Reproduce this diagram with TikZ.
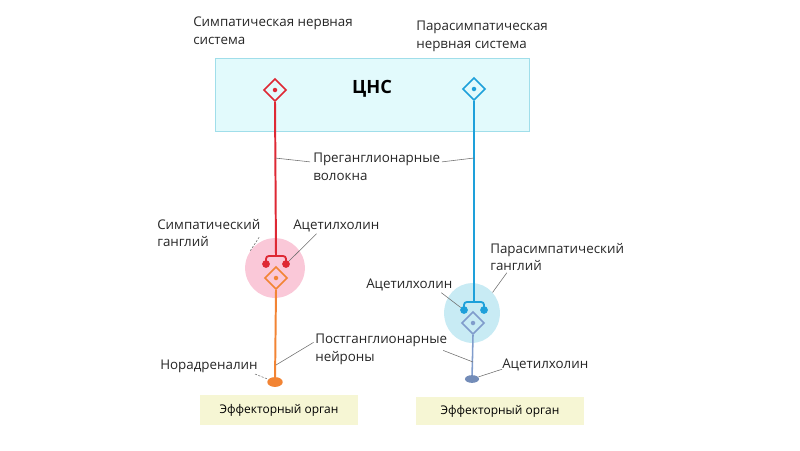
\documentclass[tikz,border=0pt]{standalone}
\usepackage{fontspec}
\setmainfont{Open Sans}
\usetikzlibrary{shapes.geometric,positioning,calc}
\definecolor{cnsfill}{RGB}{226,250,252}
\definecolor{cnsdraw}{RGB}{160,222,234}
\definecolor{symred}{RGB}{222,40,52}
\definecolor{parblue}{RGB}{30,160,218}
\definecolor{postorange}{RGB}{242,132,52}
\definecolor{postgrey}{RGB}{128,156,204}
\definecolor{gangpink}{RGB}{250,200,216}
\definecolor{gangblue}{RGB}{200,235,244}
\definecolor{effyellow}{RGB}{246,246,212}
\definecolor{leadgrey}{RGB}{110,110,110}

\begin{document}
\begin{tikzpicture}[x=0.025cm, y=-0.025cm,
    lbl/.style={font=\fontsize{9.5}{12.6}\selectfont, align=left, inner sep=0pt, text=black!85},
    soma/.style={diamond, draw, line width=1.1pt, minimum size=16pt, inner sep=0pt},
    axon/.style={line width=1.4pt},
    blob/.style={circle, inner sep=0pt, minimum size=5.5pt},
    lead/.style={draw=leadgrey, line width=0.4pt},
    dlead/.style={lead, dash pattern=on 1.5pt off 1pt},
    organ/.style={fill=effyellow, minimum width=112pt, minimum height=22pt,
                  font=\fontsize{8.5}{10}\selectfont}
]
    \useasboundingbox (0,0) rectangle (800,450);

    % CNS block
    \node[draw=cnsdraw, fill=cnsfill, line width=1pt, minimum width=223pt,
          minimum height=52pt] (cns) at (372.5,95) {};
    \node[font=\fontsize{13}{15}\selectfont\bfseries] (cnstxt) at (372,89) {ЦНС};
    \node[lbl, anchor=west] (symtitle) at (193,31) {Симпатическая нервная\\система};
    \node[lbl, anchor=west] (partitle) at (416,36) {Парасимпатическая\\нервная система};

    % ganglia
    \node[circle, fill=gangpink, minimum size=42.5pt, inner sep=0pt] (sgang) at (275,268) {};
    \node[ellipse, fill=gangblue, minimum width=39.7pt, minimum height=42.5pt, inner sep=0pt] (pgang) at (472,313) {};

    % somata
    \node[soma, draw=symred] (symcns) at (275,90) {};
    \node[soma, draw=parblue] (parcns) at (474,89) {};
    \node[soma, draw=postorange] (sympost) at (276,278) {};
    \node[soma, draw=postgrey] (parpost) at (473,323) {};
    \fill[symred] (symcns) circle (1.6pt);
    \fill[parblue] (parcns) circle (1.6pt);
    \fill[postorange] (sympost) circle (1.6pt);
    \fill[postgrey] (parpost) circle (1.6pt);

    % synapses
    \coordinate (symcup) at (276,256);
    \coordinate (parcup) at (474,302);
    \draw[symred, line width=1.3pt, rounded corners=2pt]
        (266,263) -- (266,256) -- (286,256) -- (286,263);
    \draw[parblue, line width=1.3pt, rounded corners=2pt]
        (464,309) -- (464,302) -- (484,302) -- (484,309);
    \node[blob, fill=symred] (sblobl) at (266,264) {};
    \node[blob, fill=symred] (sblobr) at (286,264) {};
    \node[blob, fill=parblue] (pblobl) at (464,310) {};
    \node[blob, fill=parblue] (pblobr) at (484,310) {};

    % fibres
    \draw[axon, symred] (symcns.south) -- (symcup);
    \draw[axon, parblue] (parcns.south) -- (parcup);
    \node[ellipse, fill=postorange, minimum width=11pt, minimum height=7pt, inner sep=0pt] (symend) at (275,382) {};
    \node[ellipse, fill=postgrey!90!black, minimum width=10pt, minimum height=5.5pt, inner sep=0pt] (parend) at (472,379) {};
    \draw[axon, postorange] (sympost.south) -- (symend);
    \draw[line width=1.1pt, postgrey] (parpost.south) -- (parend);

    % labels
    \node[lbl, anchor=west] (pre) at (313,167) {Преганглионарные\\волокна};
    \node[lbl, anchor=west] (symgl) at (157,233) {Симпатический\\ганглий};
    \node[lbl, anchor=west] (ach1) at (293,226) {Ацетилхолин};
    \node[lbl, anchor=west] (pargl) at (490,257) {Парасимпатический\\ганглий};
    \node[lbl, anchor=west] (ach2) at (366,285) {Ацетилхолин};
    \node[lbl, anchor=west] (post) at (315,349) {Постганглионарные\\нейроны};
    \node[lbl, anchor=west] (nora) at (160,366) {Норадреналин};
    \node[lbl, anchor=west] (ach3) at (502,365) {Ацетилхолин};

    \coordinate (presym) at (275,158);
    \coordinate (prepar) at (474,158);
    \coordinate (postsym) at (276,365);
    \coordinate (postpar) at (473,362);

    % leader lines
    \draw[lead] (presym) -- ([xshift=-2pt,yshift=-6.3pt]pre.north west);
    \draw[lead] ([xshift=1pt,yshift=-6.3pt]pre.north east) -- (prepar);
    \draw[dlead] ([xshift=-1pt,yshift=-3pt]symgl.east) -- (sgang.145);
    \draw[lead] ([xshift=-14pt,yshift=-1pt]ach1.south) -- (sblobr);
    \draw[lead] ([xshift=12pt,yshift=-1pt]pargl.south west) -- (pgang.45);
    \draw[lead] ([xshift=-8pt,yshift=-1pt]ach2.south east) -- (pblobl);
    \draw[lead] ([xshift=-1pt,yshift=-6.3pt]post.north west) -- (postsym);
    \draw[lead] ([xshift=-3pt,yshift=-1pt]post.east) -- (postpar);
    \draw[dlead] ([xshift=-2pt,yshift=-1pt]nora.south east) -- (symend);
    \draw[lead] ([yshift=-3pt]ach3.west) -- (parend);

    % effector organs
    \node[organ] (organl) at (279,410) {Эффекторный орган};
    \node[organ, minimum width=119pt, minimum height=20pt] (organr) at (500,411) {Эффекторный орган};
\end{tikzpicture}
\end{document}
